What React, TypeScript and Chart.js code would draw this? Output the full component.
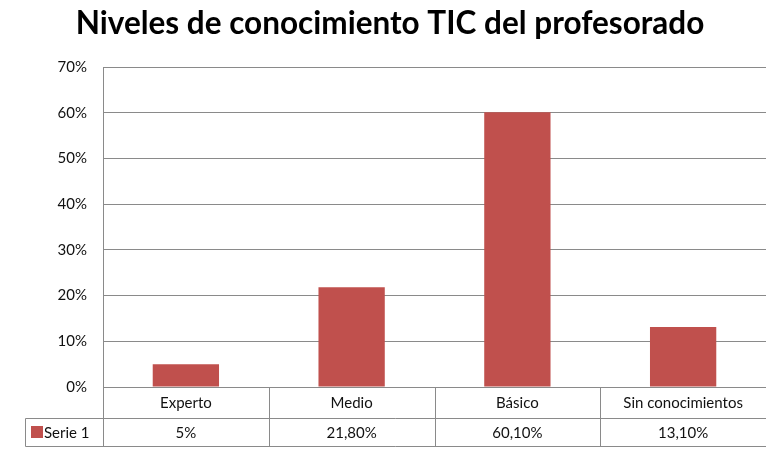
import React, { useEffect, useRef } from "react";
import { Chart, registerables } from "chart.js";

Chart.register(...registerables);

const TITLE = "Niveles de conocimiento TIC del profesorado";
const CATEGORIES = ["Experto", "Medio", "Básico", "Sin conocimientos"];
const SERIES_NAME = "Serie 1";
const VALUES = [5, 21.8, 60.1, 13.1];
const VALUE_LABELS = ["5%", "21,80%", "60,10%", "13,10%"];
const BAR_COLOR = "#C0504D";
const GRID_COLOR = "#8a8a8a";
const FONT = "Lato, 'Open Sans', sans-serif";

const tablePlugin = {
  id: "excelTable",
  afterDraw(chart: any) {
    const ctx = chart.ctx as CanvasRenderingContext2D;
    const area = chart.chartArea;
    const n = CATEGORIES.length;
    const colW = (area.right - area.left) / n;
    const row1Top = area.bottom;
    const row1Bot = area.bottom + 31;
    const row2Bot = row1Bot + 28;
    const legLeft = 25;
    ctx.save();
    ctx.strokeStyle = GRID_COLOR;
    ctx.lineWidth = 1;
    const line = (x1: number, y1: number, x2: number, y2: number) => {
      ctx.beginPath();
      ctx.moveTo(x1, y1);
      ctx.lineTo(x2, y2);
      ctx.stroke();
    };
    const L = Math.round(area.left) + 0.5;
    line(L, Math.round(row1Top) + 0.5, area.right, Math.round(row1Top) + 0.5);
    line(legLeft + 0.5, Math.round(row1Bot) + 0.5, area.right, Math.round(row1Bot) + 0.5);
    line(legLeft + 0.5, Math.round(row2Bot) + 0.5, area.right, Math.round(row2Bot) + 0.5);
    line(legLeft + 0.5, Math.round(row1Bot) + 0.5, legLeft + 0.5, Math.round(row2Bot) + 0.5);
    for (let i = 0; i <= n; i++) {
      const x = Math.round(area.left + i * colW) + 0.5;
      line(x, Math.round(row1Top), x, Math.round(row2Bot) + 1);
    }
    ctx.fillStyle = "#111";
    ctx.font = `15px ${FONT}`;
    ctx.textAlign = "center";
    ctx.textBaseline = "middle";
    for (let i = 0; i < n; i++) {
      const cx = area.left + (i + 0.5) * colW;
      ctx.fillText(CATEGORIES[i], cx, (row1Top + row1Bot) / 2 + 1);
      ctx.fillText(VALUE_LABELS[i], cx, (row1Bot + row2Bot) / 2 + 1);
    }
    ctx.fillStyle = BAR_COLOR;
    ctx.fillRect(31, Math.round(row1Bot) + 8, 12, 12);
    ctx.fillStyle = "#111";
    ctx.textAlign = "left";
    ctx.fillText(SERIES_NAME, 44, (row1Bot + row2Bot) / 2 + 1);
    ctx.font = `bold 31.5px ${FONT}`;
    ctx.textAlign = "center";
    ctx.fillStyle = "#000";
    ctx.fillText(TITLE, 390, 24);
    ctx.restore();
  },
};

export default function App() {
  const ref = useRef<HTMLCanvasElement | null>(null);
  useEffect(() => {
    if (!ref.current) return;
    const chart = new Chart(ref.current, {
      type: "bar",
      data: {
        labels: CATEGORIES,
        datasets: [
          {
            label: SERIES_NAME,
            data: VALUES,
            backgroundColor: BAR_COLOR,
            barPercentage: 0.4,
            categoryPercentage: 1,
          },
        ],
      },
      options: {
        animation: false,
        responsive: false,
        maintainAspectRatio: false,
        layout: { padding: { left: 0, right: 0, top: 67, bottom: 64 } },
        plugins: {
          legend: { display: false },
          title: { display: false },
          tooltip: { enabled: false },
        },
        scales: {
          x: {
            display: false,
          },
          y: {
            min: 0,
            max: 70,
            afterFit: (s: any) => {
              s.width = 103;
            },
            ticks: {
              stepSize: 10,
              padding: 16,
              color: "#111",
              font: { family: FONT, size: 15 },
              callback: (v: any) => `${v}%`,
            },
            grid: { color: GRID_COLOR, drawTicks: false },
            border: { color: GRID_COLOR },
          },
        },
      },
      plugins: [tablePlugin],
    });
    return () => chart.destroy();
  }, []);
  return (
    <div style={{ position: "fixed", left: 0, top: 0, width: 766, height: 451, background: "#fff" }}>
      <canvas ref={ref} width={766} height={451} style={{ width: 766, height: 451 }} />
    </div>
  );
}
